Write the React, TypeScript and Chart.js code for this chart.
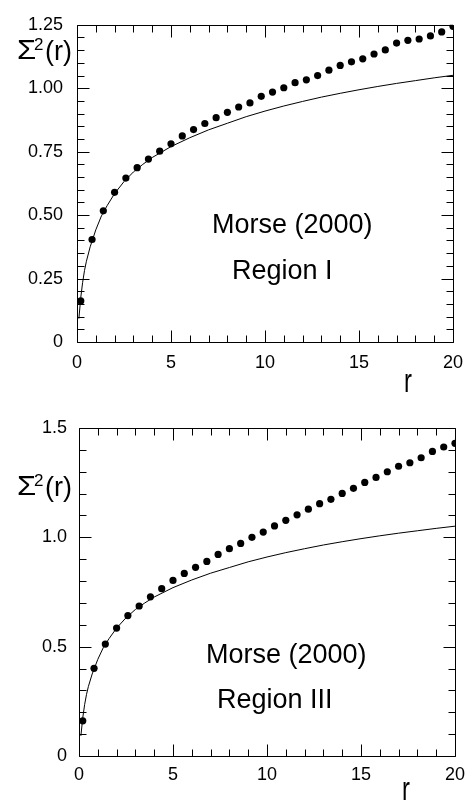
import { useEffect, useRef } from 'react';
import { Chart, registerables } from 'chart.js';

Chart.register(...registerables);

const FONT = "'Liberation Sans', Arial, Helvetica, sans-serif";

// ---- data ----
const rDots = [0.2, 0.8, 1.4, 2.0, 2.6, 3.2, 3.8, 4.4, 5.0, 5.6, 6.2, 6.8, 7.4, 8.0, 8.6, 9.2, 9.8,
  10.4, 11.0, 11.6, 12.2, 12.8, 13.4, 14.0, 14.6, 15.2, 15.8, 16.4, 17.0, 17.6, 18.2, 18.8, 19.4, 20.0];

const sigmaRegionI = [0.162, 0.404, 0.517, 0.590, 0.646, 0.687, 0.721, 0.752, 0.781, 0.812, 0.837,
  0.861, 0.884, 0.905, 0.926, 0.942, 0.968, 0.985, 1.002, 1.022, 1.033, 1.050, 1.071, 1.090, 1.104,
  1.116, 1.135, 1.151, 1.178, 1.189, 1.194, 1.206, 1.222, 1.244];

const sigmaRegionIII = [0.161, 0.401, 0.512, 0.585, 0.642, 0.686, 0.728, 0.765, 0.803, 0.835, 0.863,
  0.890, 0.922, 0.948, 0.972, 1.000, 1.024, 1.052, 1.078, 1.103, 1.129, 1.154, 1.174, 1.201, 1.224,
  1.251, 1.274, 1.300, 1.325, 1.341, 1.364, 1.393, 1.413, 1.430];

const rCurve = [0.1, 0.2, 0.3, 0.4, 0.5, 0.7, 1.0, 1.3, 1.6, 2.0, 2.5, 3.0, 3.5, 4.0, 5.0, 6.0, 7.0,
  8.0, 9.0, 10.0, 11.0, 12.0, 13.0, 14.0, 15.0, 16.0, 17.0, 18.0, 19.0, 20.0];
const sigmaCurve = [0.092, 0.175, 0.235, 0.282, 0.318, 0.375, 0.442, 0.497, 0.537, 0.585, 0.632, 0.670,
  0.700, 0.727, 0.770, 0.805, 0.836, 0.862, 0.888, 0.910, 0.930, 0.948, 0.965, 0.980, 0.994, 1.007,
  1.019, 1.030, 1.041, 1.051];

const xTickValues = [0, 5, 10, 15, 20];
const xTickLabels = ['0', '5', '10', '15', '20'];
const yTopTickValues = [0, 0.25, 0.5, 0.75, 1.0, 1.25];
const yTopTickLabels = ['0', '0.25', '0.50', '0.75', '1.00', '1.25'];
const yBotTickValues = [0, 0.5, 1.0, 1.5];
const yBotTickLabels = ['0', '0.5', '1.0', '1.5'];

// ---- plugin: frame, inward ticks (via scales), annotations ----
const framePlugin = {
  id: 'frame',
  afterDraw(chart: any, _args: any, o: any) {
    const { ctx, chartArea: a } = chart;
    const xs = chart.scales.x;
    const ys = chart.scales.y;
    const L = Math.round(a.left) + 0.5;
    const R = Math.round(a.right) + 0.5;
    const T = Math.round(a.top) + 0.5;
    const B = Math.round(a.bottom) + 0.5;
    ctx.save();
    ctx.strokeStyle = '#000';
    ctx.lineWidth = 1;
    ctx.beginPath();
    ctx.rect(L, T, R - L, B - T);
    ctx.stroke();
    ctx.beginPath();
    const nx = Math.round((xs.max - xs.min) / o.xMinor);
    for (let i = 0; i <= nx; i++) {
      const v = xs.min + i * o.xMinor;
      const major = o.xMajor.some((m: number) => Math.abs(m - v) < 1e-9);
      const len = major ? o.majorLen : o.minorLen;
      const px = Math.round(xs.getPixelForValue(v)) + 0.5;
      ctx.moveTo(px, B); ctx.lineTo(px, B - len);
      ctx.moveTo(px, T); ctx.lineTo(px, T + len);
    }
    const ny = Math.round((ys.max - ys.min) / o.yMinor);
    for (let i = 0; i <= ny; i++) {
      const v = ys.min + i * o.yMinor;
      const major = o.yMajor.some((m: number) => Math.abs(m - v) < 1e-9);
      const len = major ? o.majorLen : o.minorLen;
      const py = Math.round(ys.getPixelForValue(v)) + 0.5;
      ctx.moveTo(L, py); ctx.lineTo(L + len, py);
      ctx.moveTo(R, py); ctx.lineTo(R - len, py);
    }
    ctx.stroke();
    ctx.fillStyle = '#000';
    ctx.textAlign = 'left';
    ctx.textBaseline = 'alphabetic';
    for (const n of o.notes) {
      ctx.save();
      ctx.font = `${n.size}px ${FONT}`;
      ctx.translate(n.x, n.y);
      ctx.scale(n.sx ?? 1, 1);
      ctx.fillText(n.text, 0, 0);
      ctx.restore();
    }
    ctx.restore();
  },
};

type PanelProps = {
  height: number;
  dots: number[];
  yMax: number;
  yTicks: number[];
  yLabels: string[];
  yMinor: number;
  area: { left: number; right: number; top: number; bottom: number };
  yPad: number;
  xPad: number;
  notes: any[];
};

function Panel(p: PanelProps) {
  const ref = useRef<HTMLCanvasElement>(null);
  useEffect(() => {
    const chart = new Chart(ref.current as HTMLCanvasElement, {
      type: 'scatter',
      data: {
        datasets: [
          {
            data: rCurve.map((r, i) => ({ x: r, y: sigmaCurve[i] })),
            showLine: true,
            borderColor: '#000',
            borderWidth: 1,
            pointRadius: 0,
            clip: 0,
          } as any,
          {
            data: rDots.map((r, i) => ({ x: r, y: p.dots[i] })),
            showLine: false,
            pointRadius: 3.6,
            pointBackgroundColor: '#000',
            pointBorderWidth: 0,
            borderWidth: 0,
            clip: 0,
          } as any,
        ],
      },
      options: {
        animation: false,
        responsive: false,
        events: [],
        layout: { padding: { left: 0, top: p.area.top, right: 473 - p.area.right, bottom: 0 } },
        plugins: {
          legend: { display: false },
          tooltip: { enabled: false },
          frame: {
            xMinor: 1,
            yMinor: p.yMinor,
            xMajor: xTickValues,
            yMajor: p.yTicks,
            majorLen: 12,
            minorLen: 7,
            notes: p.notes,
          },
        } as any,
        scales: {
          x: {
            type: 'linear',
            min: 0,
            max: 20,
            afterFit(s: any) { s.height = p.height - p.area.bottom; },
            afterBuildTicks(s: any) { s.ticks = xTickValues.map((v) => ({ value: v })); },
            grid: { display: false, drawTicks: false },
            border: { display: false },
            ticks: {
              autoSkip: false,
              maxRotation: 0,
              padding: p.xPad,
              color: '#000',
              font: { family: FONT, size: 18 },
              callback: (v: any) => xTickLabels[xTickValues.indexOf(Number(v))] ?? '',
            },
          },
          y: {
            type: 'linear',
            min: 0,
            max: p.yMax,
            afterFit(s: any) { s.width = p.area.left; },
            afterBuildTicks(s: any) { s.ticks = p.yTicks.map((v) => ({ value: v })); },
            grid: { display: false, drawTicks: false },
            border: { display: false },
            ticks: {
              autoSkip: false,
              padding: p.yPad,
              color: '#000',
              font: { family: FONT, size: 18 },
              callback: (v: any) => p.yLabels[p.yTicks.indexOf(Number(v))] ?? '',
            },
          },
        },
      } as any,
      plugins: [framePlugin],
    });
    return () => chart.destroy();
  }, []);
  return <canvas ref={ref} width={473} height={p.height} style={{ display: 'block' }} />;
}

export default function App() {
  return (
    <div style={{ position: 'absolute', left: 0, top: 0, width: 473, height: 804, background: '#fff' }}>
      <Panel
        height={400}
        dots={sigmaRegionI}
        yMax={1.25}
        yTicks={yTopTickValues}
        yLabels={yTopTickLabels}
        yMinor={0.05}
        area={{ left: 77, right: 456, top: 13, bottom: 342 }}
        yPad={14}
        xPad={10}
        notes={[
          { text: 'Σ', x: 17, y: 59, size: 27, sx: 1.15 },
          { text: '2', x: 34, y: 50, size: 17 },
          { text: '(r)', x: 45, y: 60, size: 27 },
          { text: 'r', x: 404, y: 392, size: 34, sx: 0.7 },
          { text: 'Morse (2000)', x: 212, y: 233, size: 27 },
          { text: 'Region I', x: 232, y: 279, size: 27 },
        ]}
      />
      <Panel
        height={404}
        dots={sigmaRegionIII}
        yMax={1.5}
        yTicks={yBotTickValues}
        yLabels={yBotTickLabels}
        yMinor={0.1}
        area={{ left: 79, right: 456, top: 28, bottom: 356 }}
        yPad={12}
        xPad={8}
        notes={[
          { text: 'Σ', x: 17, y: 95, size: 27, sx: 1.15 },
          { text: '2', x: 34, y: 86, size: 17 },
          { text: '(r)', x: 45, y: 96, size: 27 },
          { text: 'r', x: 402, y: 400, size: 34, sx: 0.7 },
          { text: 'Morse (2000)', x: 206, y: 263, size: 27 },
          { text: 'Region III', x: 217, y: 308, size: 27 },
        ]}
      />
    </div>
  );
}
